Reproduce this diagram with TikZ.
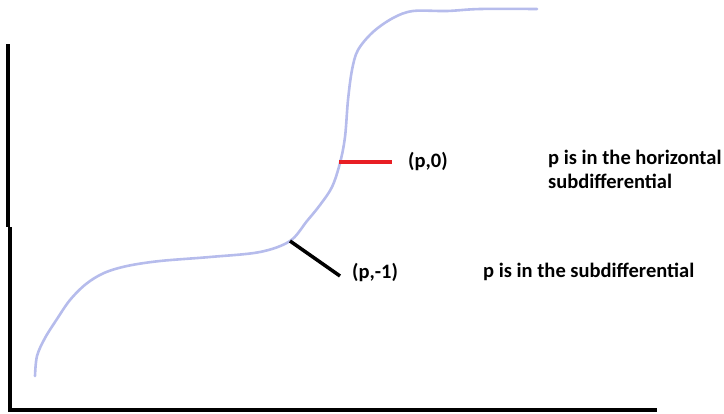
\documentclass[tikz,border=0pt]{standalone}
\usepackage{fontspec}
\setmainfont{Carlito}
\definecolor{curveblue}{RGB}{182,188,236}
\definecolor{tanred}{RGB}{232,30,36}
\tikzset{
  axis/.style={line width=4pt, black},
  curve/.style={line width=2.6pt, curveblue, line cap=round, line join=round},
  tangent/.style={line width=3.5pt},
  lbl/.style={font=\bfseries\fontsize{20.5}{24}\selectfont, inner sep=0pt, anchor=west, align=left}
}
\begin{document}
\begin{tikzpicture}[x=1pt,y=-1pt]
\useasboundingbox (0,0) rectangle (724,413);
% axes
\coordinate (ytop) at (8,44);
\coordinate (ymid) at (8,227);
\coordinate (ymid2) at (10,227);
\coordinate (origin) at (10,410);
\coordinate (xend) at (657,410);
\draw[axis, line cap=butt] (ytop) -- (ymid);
\draw[axis, line cap=butt] (ymid2) -- (origin) -- (xend);
% curve
\draw[curve] plot[smooth, tension=0.55] coordinates {
  (35,376) (37,356) (45,338) (57,319) (70,300) (86,284) (104,273) (127,266)
  (160,261) (210,257) (260,252) (290,241) (307,221) (320,205) (332,187)
  (340,163) (345,137) (348,100) (352,70) (358,50) (373,32) (393,18)
  (413,11) (447,11) (480,9) (537,9)};
% tangents
\coordinate (p0) at (339,162);
\coordinate (p0end) at (392,162);
\coordinate (p1) at (290,241);
\coordinate (p1end) at (340,276);
\draw[tangent, tanred] (p0) -- (p0end);
\draw[tangent, black] (p1) -- (p1end);
% labels
\node[lbl] (lp0) at (408,162) {(p,0)};
\node[lbl, anchor=north west] (lh) at (548,150) {p is in the horizontal\\subdifferential};
\node[lbl] (lp1) at (352,272) {(p,-1)};
\node[lbl] (ls) at (483,272) {p is in the subdifferential};
\end{tikzpicture}
\end{document}
